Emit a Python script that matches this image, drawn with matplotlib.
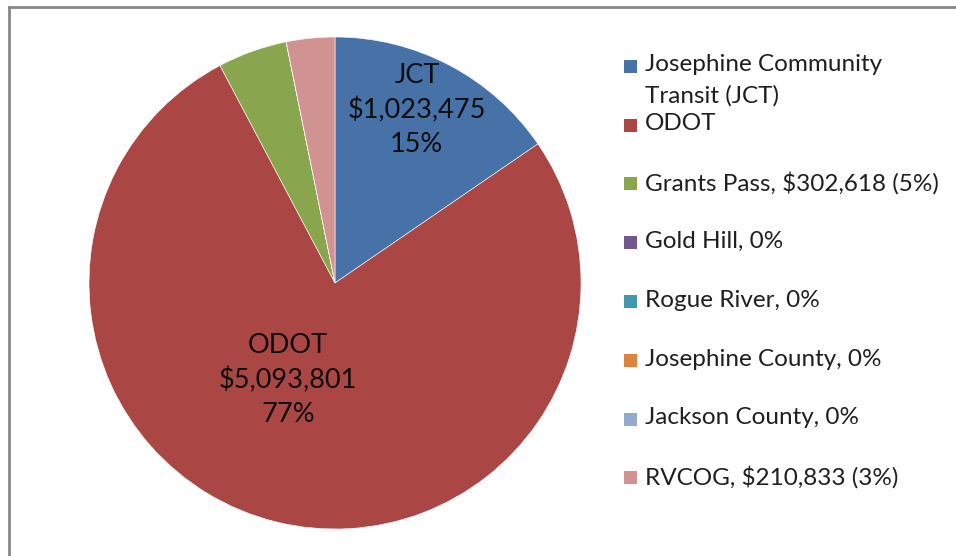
import numpy as np
import matplotlib
matplotlib.use("Agg")
from matplotlib import pyplot as plt
from matplotlib.patches import Rectangle
from matplotlib.lines import Line2D

# DATA ########################################################################

sources = ["Josephine Community Transit (JCT)", "ODOT", "Grants Pass",
           "Gold Hill", "Rogue River", "Josephine County", "Jackson County",
           "RVCOG"]
amounts = [1023475, 5093801, 302618, 0, 0, 0, 0, 210833]
legend_labels = ["Josephine Community\nTransit (JCT)", "ODOT",
                 "Grants Pass, $302,618 (5%)", "Gold Hill, 0%",
                 "Rogue River, 0%", "Josephine County, 0%",
                 "Jackson County, 0%", "RVCOG, $210,833 (3%)"]
slice_labels = {0: "JCT\n$1,023,475\n15%", 1: "ODOT\n$5,093,801\n77%"}
colors = ["#4672a8", "#aa4644", "#89a54e", "#71588f", "#4198af",
          "#db843d", "#93a9cf", "#d19392"]

# PLOT ########################################################################

plt.rcParams["font.family"] = ["Lato", "DejaVu Sans"]

W, H = 956, 556
fig = plt.figure(figsize=(W / 100, H / 100), dpi=100)

cx, cy, r = 335, 283, 246
ax = fig.add_axes([(cx - r) / W, (H - cy - r) / H, 2 * r / W, 2 * r / H])

wedges, _ = ax.pie(amounts, colors=colors, startangle=90, counterclock=False,
                   radius=1, wedgeprops=dict(edgecolor="white", linewidth=0.4))
ax.set_xlim(-1, 1)
ax.set_ylim(-1, 1)
ax.set_axis_off()

# label anchor inside each slice (axes data units, pie radius = 1)
label_pos = {0: (0.333, 0.703), 1: (-0.191, -0.394)}
for idx, text in slice_labels.items():
    lx, ly = label_pos[idx]
    ax.text(lx, ly, text, ha="center", va="center",
            fontsize=19.5, color="#0d0d0d", linespacing=1.45)

# Legend ##################

def px(x, y):
    return x / W, 1 - y / H

text_x = 645
box_x = 624
box = 13
line_gap = 32
y_rows = [65, 124] + [124 + 58.8 * i for i in range(1, 7)]
for i, (lab, col) in enumerate(zip(legend_labels, colors)):
    y = y_rows[i]
    bx, by = px(box_x, y + box / 2 + 1)
    fig.add_artist(Rectangle((bx, by), box / W, box / H, facecolor=col,
                             edgecolor="none", transform=fig.transFigure))
    for k, line in enumerate(lab.split("\n")):
        tx, ty = px(text_x, y + k * line_gap - (1 if k else 0))
        fig.text(tx, ty, line, ha="left", va="center", fontsize=17.5,
                 color="#1f1f1f")

# Chart border (cropped at right and bottom)
x0, y0 = px(9, 7)
fig.add_artist(Line2D([x0, 1.01], [y0, y0], color="#878787", lw=2,
                      transform=fig.transFigure))
fig.add_artist(Line2D([x0, x0], [y0, -0.01], color="#878787", lw=2,
                      transform=fig.transFigure))

fig.savefig("out.png", dpi=100, facecolor="white")
